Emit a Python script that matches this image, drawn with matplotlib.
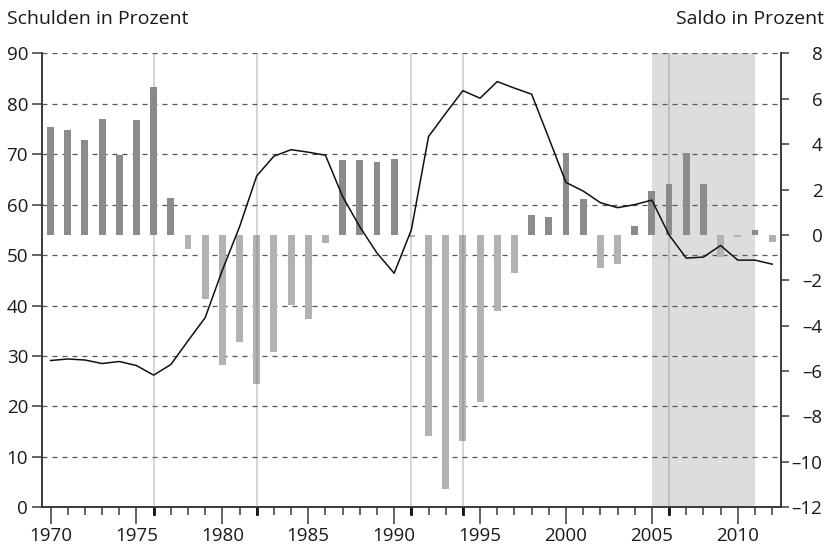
import numpy as np
import matplotlib
matplotlib.use('Agg')
import matplotlib.pyplot as plt
from matplotlib.ticker import MultipleLocator

plt.rcParams['font.family'] = ['Open Sans', 'DejaVu Sans']

years = list(range(1970, 2013))

# Schuldenquote (linke Achse, Prozent)
schulden = [29.1, 29.4, 29.2, 28.5, 28.9, 28.1, 26.2, 28.3, 33.0, 37.6,
            47.0, 55.6, 65.7, 69.6, 70.9, 70.4, 69.8, 61.6, 55.6, 50.4,
            46.4, 55.0, 73.5, 78.1, 82.6, 81.1, 84.4, 83.1, 81.9, 73.2,
            64.4, 62.7, 60.4, 59.4, 60.0, 60.9, 54.0, 49.4, 49.6, 51.9,
            49.0, 49.0, 48.2]

# Finanzierungssaldo (rechte Achse, Prozent)
saldo = [4.77, 4.63, 4.17, 5.12, 3.52, 5.07, 6.52, 1.62, -0.63, -2.82,
         -5.73, -4.70, -6.59, -5.14, -3.07, -3.70, -0.34, 3.29, 3.29, 3.22,
         3.35, -0.10, -8.88, -11.19, -9.07, -7.34, -3.34, -1.66, 0.88, 0.78,
         3.60, 1.59, -1.48, -1.26, 0.41, 1.94, 2.23, 3.60, 2.23, -0.96,
         -0.08, 0.22, -0.31]

marker_years = [1976, 1982, 1991, 1994, 2006]
shade_from, shade_to = 2005, 2011

dark_bar = '#8b8b8e'
light_bar = '#b1b2b5'
axis_col = '#3a3a3a'

fig = plt.figure(figsize=(8.31, 5.48), dpi=100)
ax = fig.add_axes([0.0505, 0.0743, 0.889, 0.8284])
ax2 = ax.twinx()

# rechte Achse oben, damit Balken und Linie ueber dem Gitter liegen
ax.set_zorder(1)
ax2.set_zorder(2)
ax2.patch.set_visible(False)

ax.axvspan(shade_from, shade_to, color='#dcdddf', lw=0, zorder=0)
ax.yaxis.grid(True, linestyle=(0, (4, 4)), color='#555555', lw=0.9, zorder=1)

cols = [dark_bar if v >= 0 else light_bar for v in saldo]
ax2.bar(years, saldo, width=0.4, color=cols, zorder=2)

for yr in marker_years:
    ax2.axvline(yr, color='#7f7f7f', alpha=0.42, lw=1.1, zorder=3)

# Schulden auf die Saldo-Skala umrechnen (0..90 -> -12..8)
ax2.plot(years, [s * 20 / 90 - 12 for s in schulden], color='#111111', lw=1.1, zorder=4)

ax.set_xlim(1969.5, 2012.5)
ax.set_ylim(0, 90)
ax2.set_ylim(-12, 8)

ax.yaxis.set_major_locator(MultipleLocator(10))
ax2.yaxis.set_major_locator(MultipleLocator(2))
ax.xaxis.set_major_locator(MultipleLocator(5))
ax.xaxis.set_minor_locator(MultipleLocator(1))

rticks = np.arange(-12, 9, 2)
ax2.set_yticks(rticks)
ax2.set_yticklabels([f'{t}'.replace('-', '\u2013') for t in rticks], ha='right')

for a in (ax, ax2):
    a.spines['top'].set_visible(False)
    for s in ('left', 'right', 'bottom'):
        a.spines[s].set_color(axis_col)
        a.spines[s].set_linewidth(1.2)
    a.tick_params(axis='both', which='both', colors=axis_col, labelcolor='#1a1a1a',
                  labelsize=13.5, width=1.1)
ax.tick_params(axis='y', length=7, pad=3)
ax2.tick_params(axis='y', length=6, pad=24)
ax.tick_params(axis='x', which='major', length=12, pad=2)
ax.tick_params(axis='x', which='minor', length=6)

# dickere Striche an den markierten Jahren
for yr in marker_years:
    ax.plot([yr, yr], [0, -1.3], color='#111111', lw=2.0, clip_on=False, zorder=5)

fig.text(0.008, 0.957, 'Schulden in Prozent', fontsize=14, color='#1a1a1a', va='baseline')
fig.text(0.992, 0.957, 'Saldo in Prozent', fontsize=14, color='#1a1a1a', va='baseline', ha='right')

fig.savefig('out.png', dpi=100)
